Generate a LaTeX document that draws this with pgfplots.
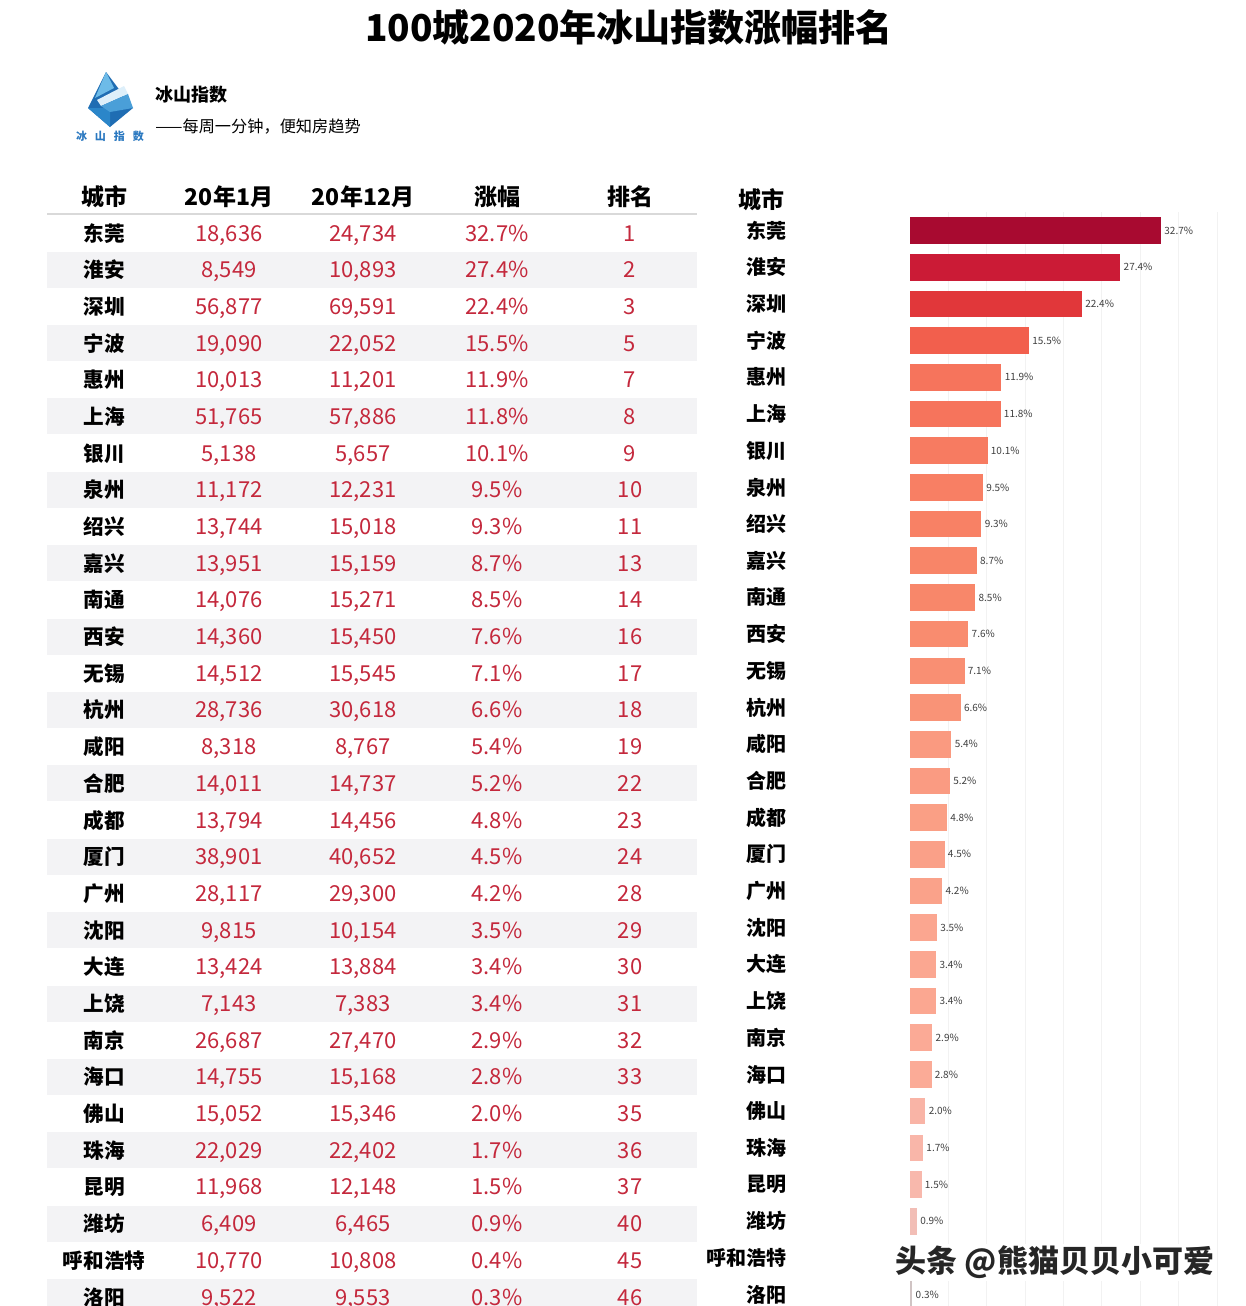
\documentclass[border=0pt]{standalone}
\usepackage{fontspec}
\setmainfont{Noto Sans CJK SC}
\usepackage{pgfplots}
\pgfplotsset{compat=1.18}
\definecolor{numred}{HTML}{C4283C}
\definecolor{rowgray}{HTML}{F3F3F5}
\definecolor{lg1}{HTML}{1F6DB3}
\definecolor{lg2}{HTML}{2B86C9}
\definecolor{lg3}{HTML}{6DBBE8}
\definecolor{lg4}{HTML}{DDEFFA}
\definecolor{lg5}{HTML}{4A9FD8}
\definecolor{logotext}{HTML}{2A78C0}
\definecolor{c1}{HTML}{A80A30}
\definecolor{c2}{HTML}{CB1B36}
\definecolor{c3}{HTML}{E1373A}
\definecolor{c4}{HTML}{F25F4D}
\definecolor{c5}{HTML}{F6745C}
\definecolor{c6}{HTML}{F6745C}
\definecolor{c7}{HTML}{F77B61}
\definecolor{c8}{HTML}{F87F64}
\definecolor{c9}{HTML}{F88165}
\definecolor{c10}{HTML}{F88568}
\definecolor{c11}{HTML}{F8876A}
\definecolor{c12}{HTML}{F98C6F}
\definecolor{c13}{HTML}{F98F73}
\definecolor{c14}{HTML}{F99377}
\definecolor{c15}{HTML}{FA9A80}
\definecolor{c16}{HTML}{FA9B82}
\definecolor{c17}{HTML}{FA9F85}
\definecolor{c18}{HTML}{FAA088}
\definecolor{c19}{HTML}{FAA28A}
\definecolor{c20}{HTML}{FBA690}
\definecolor{c21}{HTML}{FBA791}
\definecolor{c22}{HTML}{FBA791}
\definecolor{c23}{HTML}{FBAA96}
\definecolor{c24}{HTML}{FBAB97}
\definecolor{c25}{HTML}{F9B4A6}
\definecolor{c26}{HTML}{F9B6A9}
\definecolor{c27}{HTML}{F8B8AC}
\definecolor{c28}{HTML}{F2BEB6}
\definecolor{c29}{HTML}{E8C4BE}
\definecolor{c30}{HTML}{D0C4C4}
\newcommand{\fs}[1]{\fontsize{#1}{#1}\selectfont}
\begin{document}
\begin{tikzpicture}
\useasboundingbox (0,0) rectangle (623pt,-653pt);
\clip (0,0) rectangle (623pt,-653pt);
\fill[white] (0,0) rectangle (623pt,-653pt);
\begin{scope}[x=0.5pt,y=-0.5pt]
% title
\node[font=\bfseries\fs{18.5}, anchor=base] at (629,41) {100城2020年冰山指数涨幅排名};
% logo
\fill[lg1] (106,72) -- (88,108) -- (110,127) -- (133,108) -- cycle;
\fill[lg2] (88,108) -- (110,127) -- (110,108) -- cycle;
\fill[lg3] (106,72) -- (95,98) -- (114,88) -- cycle;
\fill[lg4] (97,100) -- (124,86) -- (128,94) -- (101,106) -- cycle;
\fill[lg5] (101,106) -- (128,94) -- (133,108) -- (110,112) -- cycle;
\node[font=\bfseries\fs{5.5}, text=logotext] at (110,136) {冰\hspace{4pt}山\hspace{4pt}指\hspace{4pt}数};
\node[font=\bfseries\fs{9}, anchor=west, inner sep=0] at (155,95) {冰山指数};
\node[font=\fs{8.1}, anchor=west, inner sep=0] at (155,127) {——每周一分钟，便知房趋势};
% table row shading
\foreach \i in {2,4,...,30}{
  \pgfmathsetmacro{\yy}{233+(\i-1)*36.69}
  \fill[rowgray] (47,\yy-18) rectangle (697,\yy+18);
}
% header
\node[font=\bfseries\fs{11.5}, anchor=base] at (104,205) {城市};
\node[font=\bfseries\fs{11.5}, anchor=base] at (229,205) {20年1月};
\node[font=\bfseries\fs{11.5}, anchor=base] at (363,205) {20年12月};
\node[font=\bfseries\fs{11.5}, anchor=base] at (497,205) {涨幅};
\node[font=\bfseries\fs{11.5}, anchor=base] at (630,205) {排名};
\draw[black!15, line width=0.6pt] (47,214) -- (697,214);
\node[font=\bfseries\fs{11.5}, anchor=base east, inner sep=0] at (785,208) {城市};
% table rows
\foreach \i/\c/\a/\b/\p/\r in {
 1/东莞/{18,636}/{24,734}/32.7/1,
 2/淮安/{8,549}/{10,893}/27.4/2,
 3/深圳/{56,877}/{69,591}/22.4/3,
 4/宁波/{19,090}/{22,052}/15.5/5,
 5/惠州/{10,013}/{11,201}/11.9/7,
 6/上海/{51,765}/{57,886}/11.8/8,
 7/银川/{5,138}/{5,657}/10.1/9,
 8/泉州/{11,172}/{12,231}/9.5/10,
 9/绍兴/{13,744}/{15,018}/9.3/11,
 10/嘉兴/{13,951}/{15,159}/8.7/13,
 11/南通/{14,076}/{15,271}/8.5/14,
 12/西安/{14,360}/{15,450}/7.6/16,
 13/无锡/{14,512}/{15,545}/7.1/17,
 14/杭州/{28,736}/{30,618}/6.6/18,
 15/咸阳/{8,318}/{8,767}/5.4/19,
 16/合肥/{14,011}/{14,737}/5.2/22,
 17/成都/{13,794}/{14,456}/4.8/23,
 18/厦门/{38,901}/{40,652}/4.5/24,
 19/广州/{28,117}/{29,300}/4.2/28,
 20/沈阳/{9,815}/{10,154}/3.5/29,
 21/大连/{13,424}/{13,884}/3.4/30,
 22/上饶/{7,143}/{7,383}/3.4/31,
 23/南京/{26,687}/{27,470}/2.9/32,
 24/海口/{14,755}/{15,168}/2.8/33,
 25/佛山/{15,052}/{15,346}/2.0/35,
 26/珠海/{22,029}/{22,402}/1.7/36,
 27/昆明/{11,968}/{12,148}/1.5/37,
 28/潍坊/{6,409}/{6,465}/0.9/40,
 29/呼和浩特/{10,770}/{10,808}/0.4/45,
 30/洛阳/{9,522}/{9,553}/0.3/46}{
  \pgfmathsetmacro{\yy}{233+(\i-1)*36.69+8}
  \node[font=\bfseries\fs{10.3}, anchor=base] at (104,\yy) {\c};
  \node[font=\fs{11}, text=numred, anchor=base] at (229,\yy) {\a};
  \node[font=\fs{11}, text=numred, anchor=base] at (363,\yy) {\b};
  \node[font=\fs{11}, text=numred, anchor=base] at (497,\yy) {\p\%};
  \node[font=\fs{11}, text=numred, anchor=base] at (630,\yy) {\r};
}
\end{scope}
\begin{axis}[
  at={(455pt,-106.1pt)}, anchor=north west,
  x=3.838pt, y=18.345pt, y dir=reverse,
  xmin=0, xmax=40, ymin=0.5, ymax=30.5,
  xbar, bar width=13.3pt, bar shift=0pt,
  axis line style={draw=none}, major tick length=0pt,
  xtick={5,10,...,40}, xticklabels={}, xmajorgrids,
  grid style={color=black!5, line width=0.5pt},
  ytick={1,...,30},
  yticklabels={东莞,淮安,深圳,宁波,惠州,上海,银川,泉州,绍兴,嘉兴,南通,西安,无锡,杭州,咸阳,合肥,成都,厦门,广州,沈阳,大连,上饶,南京,海口,佛山,珠海,昆明,潍坊,呼和浩特,洛阳},
  yticklabel style={font=\bfseries\fs{10}, anchor=east, xshift=-58pt},
  point meta=x,
  /pgf/number format/assume math mode=true,
  nodes near coords={\pgfmathprintnumber[fixed,fixed zerofill,precision=1,assume math mode=true]{\pgfplotspointmeta}\%},
  nodes near coords style={font=\fs{5}, text=black!75, anchor=west, inner sep=1.5pt},
  clip=false,
]
\addplot[fill=c1, draw=none] coordinates {(32.7,1)};
\addplot[fill=c2, draw=none] coordinates {(27.4,2)};
\addplot[fill=c3, draw=none] coordinates {(22.4,3)};
\addplot[fill=c4, draw=none] coordinates {(15.5,4)};
\addplot[fill=c5, draw=none] coordinates {(11.9,5)};
\addplot[fill=c6, draw=none] coordinates {(11.8,6)};
\addplot[fill=c7, draw=none] coordinates {(10.1,7)};
\addplot[fill=c8, draw=none] coordinates {(9.5,8)};
\addplot[fill=c9, draw=none] coordinates {(9.3,9)};
\addplot[fill=c10, draw=none] coordinates {(8.7,10)};
\addplot[fill=c11, draw=none] coordinates {(8.5,11)};
\addplot[fill=c12, draw=none] coordinates {(7.6,12)};
\addplot[fill=c13, draw=none] coordinates {(7.1,13)};
\addplot[fill=c14, draw=none] coordinates {(6.6,14)};
\addplot[fill=c15, draw=none] coordinates {(5.4,15)};
\addplot[fill=c16, draw=none] coordinates {(5.2,16)};
\addplot[fill=c17, draw=none] coordinates {(4.8,17)};
\addplot[fill=c18, draw=none] coordinates {(4.5,18)};
\addplot[fill=c19, draw=none] coordinates {(4.2,19)};
\addplot[fill=c20, draw=none] coordinates {(3.5,20)};
\addplot[fill=c21, draw=none] coordinates {(3.4,21)};
\addplot[fill=c22, draw=none] coordinates {(3.4,22)};
\addplot[fill=c23, draw=none] coordinates {(2.9,23)};
\addplot[fill=c24, draw=none] coordinates {(2.8,24)};
\addplot[fill=c25, draw=none] coordinates {(2.0,25)};
\addplot[fill=c26, draw=none] coordinates {(1.7,26)};
\addplot[fill=c27, draw=none] coordinates {(1.5,27)};
\addplot[fill=c28, draw=none] coordinates {(0.9,28)};
\addplot[fill=c29, draw=none] coordinates {(0.4,29)};
\addplot[fill=c30, draw=none] coordinates {(0.3,30)};
\end{axis}
\begin{scope}[x=0.5pt,y=-0.5pt]
\node[font=\bfseries\fs{15.5}, text=black!85, fill=white, inner sep=1pt] at (1055,1262) {头条 @熊猫贝贝小可爱};
\end{scope}
\end{tikzpicture}
\end{document}
